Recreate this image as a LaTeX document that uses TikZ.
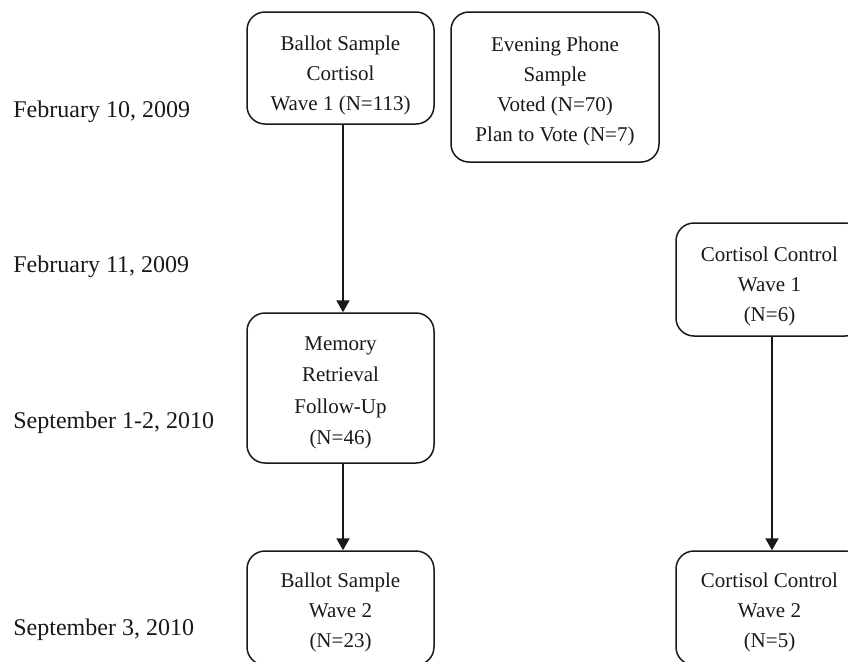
\documentclass[tikz,border=0pt]{standalone}
\usepackage{fontspec}
\setmainfont{Liberation Serif}
\usetikzlibrary{arrows.meta}
\newcommand{\lowerby}[1]{\rule{0pt}{\dimexpr 9.6pt+#1\relax}}
\tikzset{
  stagebox/.style={draw=black!90, line width=0.75pt, rounded corners=9pt, inner sep=0pt,
    align=center, font=\fontsize{10.5}{15}\selectfont, text=black!90},
  datelabel/.style={anchor=base west, inner sep=0pt, font=\fontsize{12}{14}\selectfont, text=black!90},
  flow/.style={draw=black!90, line width=1pt, -{Triangle[width=6.5pt,length=6pt]}}
}
\begin{document}
\begin{tikzpicture}[x=0.5pt,y=-0.5pt]
\useasboundingbox (0,0) rectangle (848,661);
\clip (0,0) rectangle (848,661);
% date labels
\node[datelabel] (d1) at (13,117) {February 10, 2009};
\node[datelabel] (d2) at (13,272) {February 11, 2009};
\node[datelabel] (d3) at (13,428) {September 1-2, 2010};
\node[datelabel] (d4) at (13,635) {September 3, 2010};
% boxes
\node[stagebox, minimum width=93.5pt, minimum height=56pt] (A) at (340.5,68)
  {\lowerby{5pt}Ballot Sample\\Cortisol\\Wave 1 (N=113)};
\node[stagebox, minimum width=104pt, minimum height=75pt] (B) at (555,87)
  {\lowerby{2pt}Evening Phone\\Sample\\Voted (N=70)\\Plan to Vote (N=7)};
\node[stagebox, minimum width=93.5pt, minimum height=56.5pt] (C) at (769.5,279.5)
  {\lowerby{5pt}Cortisol Control\\Wave 1\\(N=6)};
\node[stagebox, minimum width=93.5pt, minimum height=75pt, font=\fontsize{10.5}{15.7}\selectfont] (M) at (340.5,388)
  {\lowerby{2pt}Memory\\Retrieval\\Follow-Up\\(N=46)};
\node[stagebox, minimum width=93.5pt, minimum height=57pt] (D) at (340.5,608)
  {\lowerby{2pt}Ballot Sample\\Wave 2\\(N=23)};
\node[stagebox, minimum width=93.5pt, minimum height=57pt] (E) at (769.5,608)
  {\lowerby{2pt}Cortisol Control\\Wave 2\\(N=5)};
% connectors
\draw[flow] ([xshift=1.25pt]A.south) -- ([xshift=1.25pt]M.north);
\draw[flow] ([xshift=1.25pt]M.south) -- ([xshift=1.25pt]D.north);
\draw[flow] ([xshift=1.25pt]C.south) -- ([xshift=1.25pt]E.north);
\end{tikzpicture}
\end{document}
